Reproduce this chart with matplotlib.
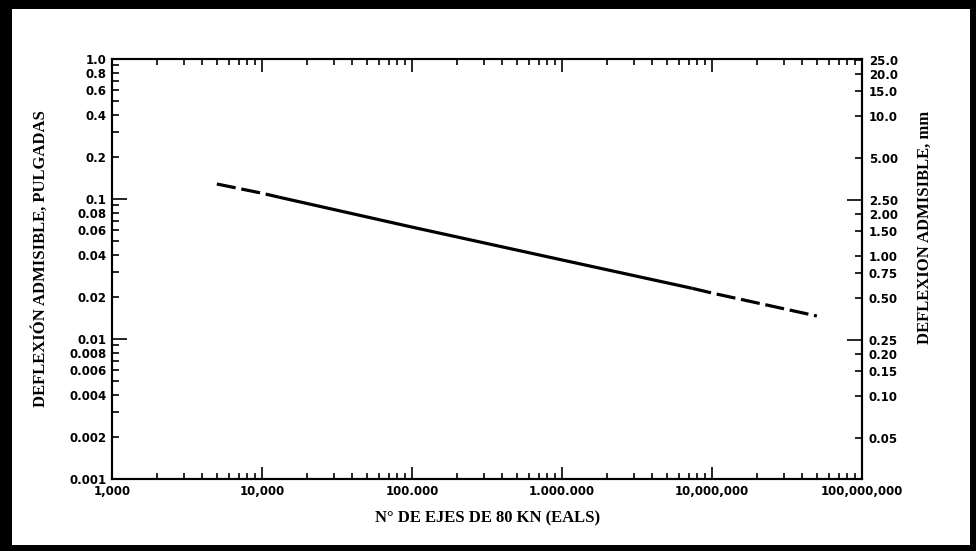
import matplotlib.pyplot as plt
from matplotlib.patches import Rectangle
from matplotlib.ticker import NullFormatter

# Curve (N of 80 kN axles vs allowable deflection, inches)
ejes = [5000, 10000, 13000, 100000, 1000000, 7400000, 10000000, 50000000]
deflexion = [0.128, 0.110, 0.103, 0.063, 0.0367, 0.0230, 0.0213, 0.0146]
# index ranges: dashed start, solid middle, dashed end
tramo_ini = slice(0, 3)
tramo_medio = slice(2, 6)
tramo_fin = slice(5, 8)

x_ticks = [1e3, 1e4, 1e5, 1e6, 1e7, 1e8]
x_labels = ["1,000", "10,000", "100.000", "1.000.000", "10,000,000", "100,000,000"]

# left axis (inches)
y_major = [1.0, 0.1, 0.01, 0.001]
y_major_labels = ["1.0", "0.1", "0.01", "0.001"]
y_minor = [0.9, 0.8, 0.7, 0.6, 0.5, 0.4, 0.3, 0.2,
           0.09, 0.08, 0.07, 0.06, 0.05, 0.04, 0.03, 0.02,
           0.009, 0.008, 0.007, 0.006, 0.005, 0.004, 0.003, 0.002]
y_minor_labels = ["", "0.8", "", "0.6", "", "0.4", "", "0.2",
                  "", "0.08", "", "0.06", "", "0.04", "", "0.02",
                  "", "0.008", "", "0.006", "", "0.004", "", "0.002"]

# right axis (mm)
mm_long = [2.5, 0.25]
mm_long_labels = ["2.50", "0.25"]
mm_short = [25.0, 20.0, 15.0, 10.0, 5.0, 2.0, 1.5, 1.0, 0.75, 0.5, 0.2, 0.15, 0.1, 0.05]
mm_short_labels = ["25.0", "20.0", "15.0", "10.0", "5.00", "2.00", "1.50", "1.00",
                   "0.75", "0.50", "0.20", "0.15", "0.10", "0.05"]

W, H = 976, 551
fig = plt.figure(figsize=(W / 100, H / 100), dpi=100, facecolor="black")
# white page inside the thick black frame
fig.add_artist(Rectangle((12 / W, 6 / H), (970 - 12) / W, (545 - 9) / H,
                         transform=fig.transFigure, facecolor="white",
                         edgecolor="none", zorder=-10))

ax = fig.add_axes([112 / W, (H - 479) / H, 750 / W, 420 / H])
ax.set_xscale("log")
ax.set_yscale("log")
ax.set_xlim(1e3, 1e8)
ax.set_ylim(0.001, 1.0)

kw = dict(color="black", linewidth=2.3, solid_capstyle="butt", dash_capstyle="butt")
ax.plot(ejes[tramo_ini], deflexion[tramo_ini], dashes=(6, 1.8), **kw)
ax.plot(ejes[tramo_medio], deflexion[tramo_medio], linestyle="-", **kw)
ax.plot(ejes[tramo_fin], deflexion[tramo_fin], dashes=(6, 1.8), **kw)

tick_font = dict(fontsize=8.5, fontweight="bold", family="DejaVu Sans")

ax.set_xticks(x_ticks)
ax.set_xticklabels(x_labels, **tick_font)
ax.set_xticks([m * d for d in [1e3, 1e4, 1e5, 1e6, 1e7] for m in range(2, 10)], minor=True)
ax.xaxis.set_minor_formatter(NullFormatter())

ax.set_yticks(y_major)
ax.set_yticklabels(y_major_labels, **tick_font)
ax.set_yticks(y_minor, minor=True)
ax.set_yticklabels(y_minor_labels, minor=True, **tick_font)

ax.tick_params(axis="x", which="both", direction="in", top=True, width=1.2, pad=4)
ax.tick_params(axis="x", which="major", length=9)
ax.tick_params(axis="x", which="minor", length=4)
ax.tick_params(axis="y", which="both", direction="in", width=1.2, pad=4)
ax.tick_params(axis="y", which="major", length=11)
ax.tick_params(axis="y", which="minor", length=5)

# right axis in mm
ax2 = ax.twinx()
ax2.set_yscale("log")
ax2.set_ylim(0.001 * 25.4, 1.0 * 25.4)
ax2.set_yticks(mm_long)
ax2.set_yticklabels(mm_long_labels, **tick_font)
ax2.set_yticks(mm_short, minor=True)
ax2.set_yticklabels(mm_short_labels, minor=True, **tick_font)
ax2.tick_params(axis="y", which="both", direction="in", width=1.2, pad=5)
ax2.tick_params(axis="y", which="major", length=11)
ax2.tick_params(axis="y", which="minor", length=5)

for a in (ax, ax2):
    for s in a.spines.values():
        s.set_linewidth(1.5)

label_font = dict(fontsize=12, fontweight="bold", family="Liberation Serif")
ax.text(0.501, -0.093, "N° DE EJES DE 80 KN (EALS)", transform=ax.transAxes,
        ha="center", va="center", **label_font)
ax.text(-0.0947, 0.526, "DEFLEXIÓN ADMISIBLE, PULGADAS", transform=ax.transAxes,
        ha="center", va="center", rotation=90, **label_font)
ax.text(1.084, 0.598, "DEFLEXION ADMISIBLE, mm", transform=ax.transAxes,
        ha="center", va="center", rotation=90, **label_font)

fig.savefig("out.png", dpi=100)
